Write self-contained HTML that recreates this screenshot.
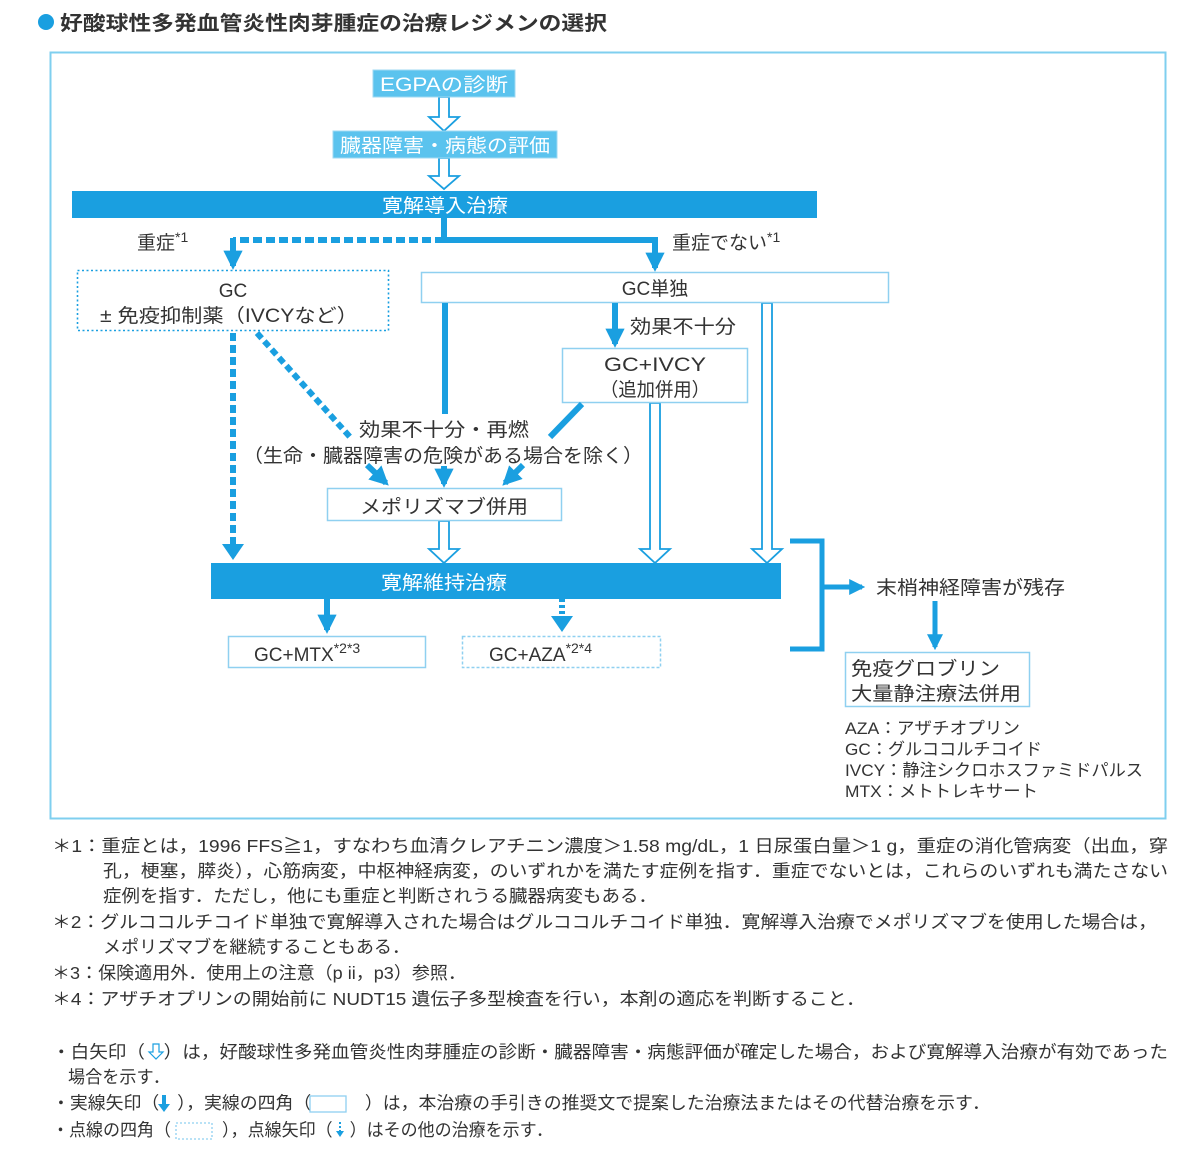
<!DOCTYPE html>
<html><head><meta charset="utf-8"><style>
body{margin:0;background:#fff;}
svg{display:block;font-family:"Liberation Sans","Noto Sans CJK JP",sans-serif;}
</style></head><body>
<svg width="1200" height="1154" viewBox="0 0 1200 1154" xmlns="http://www.w3.org/2000/svg">
<defs>
<marker id="ah" viewBox="0 0 10 10" refX="8" refY="5" markerWidth="3.2" markerHeight="3.2" orient="auto"><path d="M0,0 L10,5 L0,10 z" fill="#1a9fe0"/></marker>
</defs>
<circle cx="46" cy="22" r="8" fill="#1a9fe0"/>
<text x="60" y="30" font-size="20" font-weight="bold" fill="#333" textLength="547" lengthAdjust="spacingAndGlyphs">好酸球性多発血管炎性肉芽腫症の治療レジメンの選択</text>
<rect x="50.5" y="52.5" width="1115" height="766" fill="none" stroke="#7fcfef" stroke-width="2"/>

<g fill="#fff" stroke="#1a9fe0" stroke-width="1.8">
<path d="M439,97 h10 v20 h10 l-15,14 l-15,-14 h10 z"/>
<path d="M439,158 h10 v18 h10 l-15,13 l-15,-13 h10 z"/>
<path d="M439,521 h10 v28 h10 l-15,14 l-15,-14 h10 z"/>
<path d="M650,403 h10 v146 h10 l-15,14 l-15,-14 h10 z"/>
<path d="M762,303 h10 v246 h10 l-15,14 l-15,-14 h10 z"/>
</g>

<rect x="373" y="70" width="142" height="27" fill="#5bc3ee" stroke="#9fdaf3"/>
<text x="444" y="91" font-size="19" fill="#fff" text-anchor="middle" textLength="128" lengthAdjust="spacingAndGlyphs">EGPAの診断</text>
<rect x="333" y="131" width="224" height="27" fill="#5bc3ee" stroke="#9fdaf3"/>
<text x="445" y="152" font-size="19" fill="#fff" text-anchor="middle" textLength="210" lengthAdjust="spacingAndGlyphs">臓器障害・病態の評価</text>
<rect x="72" y="191" width="745" height="27" fill="#1a9fe0"/>
<text x="445" y="212" font-size="19" fill="#fff" text-anchor="middle" textLength="126" lengthAdjust="spacingAndGlyphs">寛解導入治療</text>

<line x1="444" y1="218" x2="444" y2="240" stroke="#1a9fe0" stroke-width="6"/>
<line x1="444" y1="240" x2="233" y2="240" stroke="#1a9fe0" stroke-width="6" stroke-dasharray="9,4"/>
<line x1="233" y1="238" x2="233" y2="266" stroke="#1a9fe0" stroke-width="6" marker-end="url(#ah)"/>
<line x1="444" y1="240" x2="655" y2="240" stroke="#1a9fe0" stroke-width="6"/>
<line x1="655" y1="237" x2="655" y2="268" stroke="#1a9fe0" stroke-width="6" marker-end="url(#ah)"/>
<text x="137" y="249" font-size="19" fill="#333">重症<tspan font-size="14" dy="-7">*1</tspan></text>
<text x="672" y="249" font-size="19" fill="#333">重症でない<tspan font-size="14" dy="-7">*1</tspan></text>

<rect x="77.5" y="270.5" width="311" height="60" fill="#fff" stroke="#1a9fe0" stroke-width="1.6" stroke-dasharray="2,2.5"/>
<text x="233" y="297" font-size="19" fill="#333" text-anchor="middle">GC</text>
<text x="229" y="322" font-size="19" fill="#333" text-anchor="middle" textLength="258" lengthAdjust="spacingAndGlyphs">± 免疫抑制薬（IVCYなど）</text>

<rect x="421.5" y="272.5" width="467" height="30" fill="#fff" stroke="#8fd0f0" stroke-width="1.5"/>
<text x="655" y="295" font-size="19" fill="#333" text-anchor="middle">GC単独</text>

<line x1="445" y1="303" x2="445" y2="414" stroke="#1a9fe0" stroke-width="6"/>
<line x1="615" y1="303" x2="615" y2="344" stroke="#1a9fe0" stroke-width="6" marker-end="url(#ah)"/>
<text x="630" y="333" font-size="19" fill="#333" textLength="106" lengthAdjust="spacingAndGlyphs">効果不十分</text>

<rect x="562.5" y="348.5" width="185" height="54" fill="#fff" stroke="#8fd0f0" stroke-width="1.5"/>
<text x="655" y="371" font-size="19" fill="#333" text-anchor="middle" textLength="102" lengthAdjust="spacingAndGlyphs">GC+IVCY</text>
<text x="655" y="396" font-size="19" fill="#333" text-anchor="middle" textLength="110" lengthAdjust="spacingAndGlyphs">（追加併用）</text>

<line x1="582" y1="404" x2="550" y2="437" stroke="#1a9fe0" stroke-width="6"/>
<line x1="257" y1="333" x2="350" y2="437" stroke="#1a9fe0" stroke-width="6" stroke-dasharray="7,4"/>
<line x1="233" y1="333" x2="233" y2="556" stroke="#1a9fe0" stroke-width="6" stroke-dasharray="8,4"/>
<path d="M222,544 h22 l-11,16 z" fill="#1a9fe0"/>

<text x="444" y="436" font-size="19" fill="#333" text-anchor="middle" textLength="170" lengthAdjust="spacingAndGlyphs">効果不十分・再燃</text>
<text x="443" y="462" font-size="19" fill="#333" text-anchor="middle" textLength="400" lengthAdjust="spacingAndGlyphs">（生命・臓器障害の危険がある場合を除く）</text>

<line x1="367" y1="465" x2="386" y2="483" stroke="#1a9fe0" stroke-width="6" marker-end="url(#ah)"/>
<line x1="444" y1="466" x2="444" y2="484" stroke="#1a9fe0" stroke-width="6" marker-end="url(#ah)"/>
<line x1="523" y1="465" x2="505" y2="483" stroke="#1a9fe0" stroke-width="6" marker-end="url(#ah)"/>

<rect x="327.5" y="488.5" width="234" height="32" fill="#fff" stroke="#8fd0f0" stroke-width="1.5"/>
<text x="444" y="513" font-size="19" fill="#333" text-anchor="middle" textLength="168" lengthAdjust="spacingAndGlyphs">メポリズマブ併用</text>

<rect x="211" y="563" width="570" height="36" fill="#1a9fe0"/>
<text x="444" y="589" font-size="19" fill="#fff" text-anchor="middle" textLength="126" lengthAdjust="spacingAndGlyphs">寛解維持治療</text>

<line x1="327" y1="599" x2="327" y2="630" stroke="#1a9fe0" stroke-width="6" marker-end="url(#ah)"/>
<line x1="562" y1="599" x2="562" y2="616" stroke="#1a9fe0" stroke-width="6" stroke-dasharray="3,3"/>
<path d="M551,616 h22 l-11,16 z" fill="#1a9fe0"/>

<rect x="228.5" y="636.5" width="197" height="31" fill="#fff" stroke="#8fd0f0" stroke-width="1.5"/>
<text x="254" y="661" font-size="19" fill="#333">GC+MTX<tspan font-size="14" dy="-8">*2*3</tspan></text>
<rect x="462.5" y="636.5" width="198" height="31" fill="#fff" stroke="#8fd0f0" stroke-width="1.5" stroke-dasharray="3,2"/>
<text x="489" y="661" font-size="19" fill="#333">GC+AZA<tspan font-size="14" dy="-8">*2*4</tspan></text>

<path d="M790,541 h32 v108 h-32" fill="none" stroke="#1a9fe0" stroke-width="5"/>
<line x1="822" y1="587" x2="862" y2="587" stroke="#1a9fe0" stroke-width="5" marker-end="url(#ah)"/>
<text x="876" y="594" font-size="19" fill="#333" textLength="189" lengthAdjust="spacingAndGlyphs">末梢神経障害が残存</text>
<line x1="935" y1="601" x2="935" y2="647" stroke="#1a9fe0" stroke-width="5" marker-end="url(#ah)"/>
<rect x="845.5" y="652.5" width="184" height="54" fill="#fff" stroke="#8fd0f0" stroke-width="1.5"/>
<text x="851" y="675" font-size="19" fill="#333" textLength="149" lengthAdjust="spacingAndGlyphs">免疫グロブリン</text>
<text x="851" y="700" font-size="19" fill="#333" textLength="170" lengthAdjust="spacingAndGlyphs">大量静注療法併用</text>

<g font-size="17" fill="#333">
<text x="845" y="734" textLength="175" lengthAdjust="spacingAndGlyphs">AZA：アザチオプリン</text>
<text x="845" y="755" textLength="197" lengthAdjust="spacingAndGlyphs">GC：グルココルチコイド</text>
<text x="845" y="776" textLength="298" lengthAdjust="spacingAndGlyphs">IVCY：静注シクロホスファミドパルス</text>
<text x="845" y="797" textLength="193" lengthAdjust="spacingAndGlyphs">MTX：メトトレキサート</text>
</g>

<g font-size="17.5" fill="#333">
<text x="52" y="852" textLength="1116" lengthAdjust="spacingAndGlyphs">＊1：重症とは，1996 FFS≧1，すなわち血清クレアチニン濃度＞1.58 mg/dL，1 日尿蛋白量＞1 g，重症の消化管病変（出血，穿</text>
<text x="103" y="877" textLength="1065" lengthAdjust="spacingAndGlyphs">孔，梗塞，膵炎），心筋病変，中枢神経病変，のいずれかを満たす症例を指す．重症でないとは，これらのいずれも満たさない</text>
<text x="103" y="902" textLength="554" lengthAdjust="spacingAndGlyphs">症例を指す．ただし，他にも重症と判断されうる臓器病変もある．</text>
<text x="52" y="928" textLength="1105" lengthAdjust="spacingAndGlyphs">＊2：グルココルチコイド単独で寛解導入された場合はグルココルチコイド単独．寛解導入治療でメポリズマブを使用した場合は，</text>
<text x="103" y="953" textLength="307" lengthAdjust="spacingAndGlyphs">メポリズマブを継続することもある．</text>
<text x="52" y="979" textLength="414" lengthAdjust="spacingAndGlyphs">＊3：保険適用外．使用上の注意（p ii，p3）参照．</text>
<text x="52" y="1005" textLength="813" lengthAdjust="spacingAndGlyphs">＊4：アザチオプリンの開始前に NUDT15 遺伝子多型検査を行い，本剤の適応を判断すること．</text>
<text x="52" y="1058" textLength="1116" lengthAdjust="spacingAndGlyphs">・白矢印（　）は，好酸球性多発血管炎性肉芽腫症の診断・臓器障害・病態評価が確定した場合，および寛解導入治療が有効であった</text>
<text x="68" y="1083" textLength="102" lengthAdjust="spacingAndGlyphs">場合を示す．</text>
<text x="52" y="1109" textLength="938" lengthAdjust="spacingAndGlyphs">・実線矢印（　），実線の四角（　　　）は，本治療の手引きの推奨文で提案した治療法またはその代替治療を示す．</text>
<text x="52" y="1136" textLength="501" lengthAdjust="spacingAndGlyphs">・点線の四角（　　　），点線矢印（　）はその他の治療を示す．</text>
</g>
<path d="M153,1044 h6 v8 h4 l-7,7 l-7,-7 h4 z" fill="#fff" stroke="#1a9fe0" stroke-width="1.2"/>
<line x1="164" y1="1095" x2="164" y2="1106" stroke="#1a9fe0" stroke-width="4"/>
<path d="M158,1104 h12 l-6,8 z" fill="#1a9fe0"/>
<rect x="310" y="1096" width="36" height="16" fill="none" stroke="#8fd0f0" stroke-width="1.3"/>
<rect x="176" y="1123" width="36" height="16" fill="none" stroke="#8fd0f0" stroke-width="1.3" stroke-dasharray="2,2"/>
<line x1="340" y1="1122" x2="340" y2="1132" stroke="#1a9fe0" stroke-width="2" stroke-dasharray="2,2"/>
<path d="M336,1131 h8 l-4,6 z" fill="#1a9fe0"/>
</svg>
</body></html>
